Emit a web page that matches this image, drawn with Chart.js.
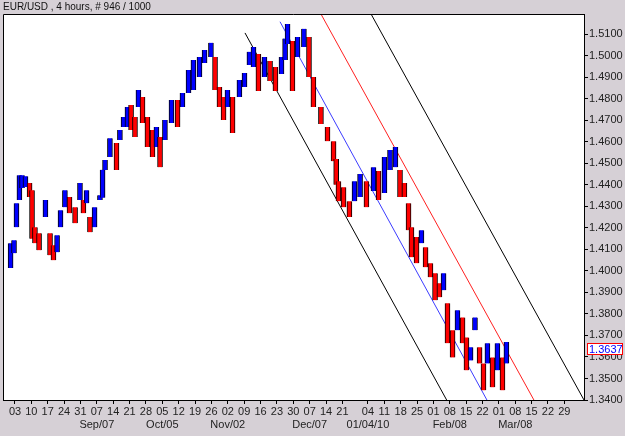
<!DOCTYPE html>
<html><head><meta charset="utf-8">
<script src="https://cdn.jsdelivr.net/npm/chart.js@4"></script>
<style>html,body{margin:0;padding:0;background:#d6d0d6;}#wrap{width:625px;height:436px;}</style>
</head><body><div id="wrap"><canvas id="c" width="625" height="436"></canvas></div>
<script>
const titleText = 'EUR/USD , 4 hours, # 946 / 1000';
// bar positions in week units (0 = Aug 03)
const barX = [-0.27,-0.06,0.09,0.27,0.43,0.64,0.89,1.04,1.22,1.47,1.86,2.14,2.35,2.57,2.78,3.05,3.33,3.67,3.97,4.18,4.37,4.58,4.86,5.19,5.35,5.50,5.80,6.20,6.41,6.63,6.87,7.09,7.33,7.54,7.79,8.09,8.40,8.64,8.86,9.16,9.56,9.93,10.23,10.60,10.90,11.27,11.58,11.97,12.22,12.49,12.74,12.98,13.29,13.71,14.02,14.32,14.57,14.87,15.24,15.58,15.91,16.28,16.50,16.65,16.95,17.26,17.65,17.96,18.23,18.69,19.09,19.46,19.62,19.76,20.07,20.43,20.74,21.08,21.47,21.90,22.21,22.57,22.91,23.24,23.52,23.79,24.04,24.22,24.53,24.83,25.08,25.38,25.66,25.93,26.18,26.42,26.73,27.03,27.34,27.58,27.83,28.10,28.38,28.62,28.86,29.17,29.47,29.78,30.02];
const highs = [1.4129,1.4143,1.4315,1.4445,1.4445,1.4440,1.4408,1.4375,1.4203,1.4175,1.4329,1.4175,1.4119,1.4166,1.4282,1.4375,1.4343,1.4296,1.4408,1.4329,1.4375,1.4250,1.4296,1.4352,1.4470,1.4515,1.4617,1.4594,1.4655,1.4715,1.4762,1.4771,1.4715,1.4841,1.4808,1.4715,1.4655,1.4669,1.4622,1.4701,1.4794,1.4794,1.4827,1.4934,1.4980,1.4994,1.5027,1.5060,1.4994,1.4855,1.4808,1.4841,1.4808,1.4887,1.4920,1.5018,1.5041,1.5008,1.4994,1.4976,1.4948,1.4994,1.5080,1.5148,1.5069,1.5087,1.5125,1.5087,1.4901,1.4762,1.4669,1.4603,1.4520,1.4417,1.4389,1.4324,1.4417,1.4450,1.4417,1.4482,1.4464,1.4529,1.4562,1.4576,1.4469,1.4408,1.4315,1.4203,1.4157,1.4189,1.4110,1.4036,1.3989,1.3943,1.3989,1.3850,1.3724,1.3817,1.3784,1.3691,1.3645,1.3784,1.3645,1.3570,1.3664,1.3598,1.3664,1.3598,1.3670];
const lows = [1.4013,1.4082,1.4203,1.4329,1.4385,1.4390,1.4343,1.4150,1.4129,1.4096,1.4250,1.4073,1.4050,1.4087,1.4203,1.4296,1.4268,1.4222,1.4329,1.4268,1.4315,1.4180,1.4203,1.4329,1.4340,1.4469,1.4529,1.4469,1.4608,1.4669,1.4669,1.4655,1.4622,1.4762,1.4687,1.4576,1.4529,1.4576,1.4482,1.4608,1.4687,1.4669,1.4762,1.4827,1.4841,1.4901,1.4966,1.4994,1.4841,1.4762,1.4701,1.4762,1.4641,1.4808,1.4855,1.4957,1.4948,1.4836,1.4901,1.4883,1.4836,1.4915,1.4980,1.5055,1.4836,1.4994,1.5041,1.4901,1.4762,1.4683,1.4603,1.4510,1.4400,1.4324,1.4296,1.4250,1.4324,1.4343,1.4296,1.4371,1.4329,1.4362,1.4469,1.4482,1.4343,1.4343,1.4189,1.4064,1.4036,1.4129,1.4017,1.3971,1.3864,1.3878,1.3910,1.3664,1.3598,1.3724,1.3664,1.3538,1.3584,1.3724,1.3570,1.3445,1.3570,1.3459,1.3538,1.3445,1.3570];
const lastClose = 1.3637;
const tickPos = [0,1,2,3,4,5,6,7,8,9,10,11,12,13,14,15,16,17,18,19,20,21.56,22.56,23.56,24.56,25.56,26.56,27.56,28.56,29.56,30.56,31.56,32.56,33.56];
const dayLabels = ['03','10','17','24','31','07','14','21','28','05','12','19','26','02','09','16','23','30','07','14','21','04','11','18','25','01','08','15','22','01','08','15','22','29'];
const monthLabels = ['','','','','','Sep/07','','','','Oct/05','','','','Nov/02','','','','','Dec/07','','','01/04/10','','','','','Feb/08','','','','Mar/08','','',''];
const yTicks = [1.34,1.35,1.36,1.37,1.38,1.39,1.40,1.41,1.42,1.43,1.44,1.45,1.46,1.47,1.48,1.49,1.50,1.51];
const lowerBlack = [{x:14.05,y:1.5106},{x:26.37,y:1.34}];
const blueLine = [{x:16.19,y:1.5158},{x:28.83,y:1.34}];
const redLine = [{x:18.69,y:1.5194},{x:31.70,y:1.34}];
const upperBlack = [{x:21.75,y:1.5194},{x:34.76,y:1.34}];

const mids = highs.map((h,i)=>(h+lows[i])/2);
const barColors = mids.map((m,i)=> i===0 ? '#0000ff' : (m>=mids[i-1] ? '#0000ff' : '#ff0000'));
const FONT = 'Liberation Sans, Arial, sans-serif';

const framePlugin = {
  id:'frame',
  beforeDatasetsDraw(chart){
    const {ctx, chartArea:a} = chart;
    ctx.save(); ctx.fillStyle='#ffffff'; ctx.fillRect(a.left,a.top,a.right-a.left,a.bottom-a.top); ctx.restore();
  },
  afterDraw(chart){
    const {ctx, chartArea:a} = chart;
    ctx.save();
    ctx.strokeStyle='#000'; ctx.lineWidth=1;
    ctx.beginPath();
    ctx.moveTo(a.left+0.5,a.bottom); ctx.lineTo(a.left+0.5,a.top+0.5); ctx.lineTo(a.right,a.top+0.5);
    ctx.stroke();
    ctx.fillStyle='#111'; ctx.font='10px '+FONT; ctx.textBaseline='middle'; ctx.textAlign='left';
    ctx.fillText(titleText,3,7);
    ctx.font='11px '+FONT;
    const y = chart.scales.y.getPixelForValue(lastClose);
    ctx.fillStyle='#fff'; ctx.fillRect(587,Math.round(y)-6,36,12);
    ctx.strokeStyle='#ff0000'; ctx.strokeRect(587.5,Math.round(y)-5.5,35,11);
    ctx.fillStyle='#0000ff'; ctx.fillText(lastClose.toFixed(4),589,Math.round(y)+0.5);
    ctx.restore();
  }
};

const lineDs = (data,color)=>({type:'line',data,borderColor:color,borderWidth:1,pointRadius:0,fill:false,tension:0});

new Chart(document.getElementById('c'),{
  data:{datasets:[
    {type:'bar',data:barX.map((x,i)=>({x,y:[lows[i],highs[i]]})),backgroundColor:barColors,borderColor:'#000',borderWidth:{left:1,right:1,top:0,bottom:0},borderSkipped:false,barThickness:5,grouped:false},
    lineDs(lowerBlack,'#000000'),
    lineDs(blueLine,'#3c3cff'),
    lineDs(redLine,'#ff2020'),
    lineDs(upperBlack,'#000000')
  ]},
  options:{
    responsive:false,animation:false,devicePixelRatio:1,
    layout:{padding:{left:3,top:14,right:0,bottom:0}},
    plugins:{legend:{display:false},tooltip:{enabled:false},title:{display:false}},
    scales:{
      x:{type:'linear',position:'bottom',min:-0.733,max:34.76,offset:false,
        afterFit(s){s.height=36;},
        afterBuildTicks(s){s.ticks=tickPos.map(v=>({value:v}));},
        grid:{offset:false,drawOnChartArea:false,drawTicks:true,tickLength:4,color:'#000'},
        border:{display:true,color:'#000'},
        ticks:{autoSkip:false,maxRotation:0,padding:1,color:'#222',font:{family:FONT,size:11},
          callback(v,i){return monthLabels[i]?[dayLabels[i],monthLabels[i]]:dayLabels[i];}}
      },
      y:{type:'linear',position:'right',min:1.34,max:1.5194,
        afterFit(s){s.width=41;},
        afterBuildTicks(s){s.ticks=yTicks.map(v=>({value:v}));},
        grid:{drawOnChartArea:false,drawTicks:true,tickLength:4,color:'#000'},
        border:{display:true,color:'#000'},
        ticks:{padding:1,color:'#222',font:{family:FONT,size:11},callback(v){return Number(v).toFixed(4);}}
      }
    }
  },
  plugins:[framePlugin]
});
</script></body></html>
